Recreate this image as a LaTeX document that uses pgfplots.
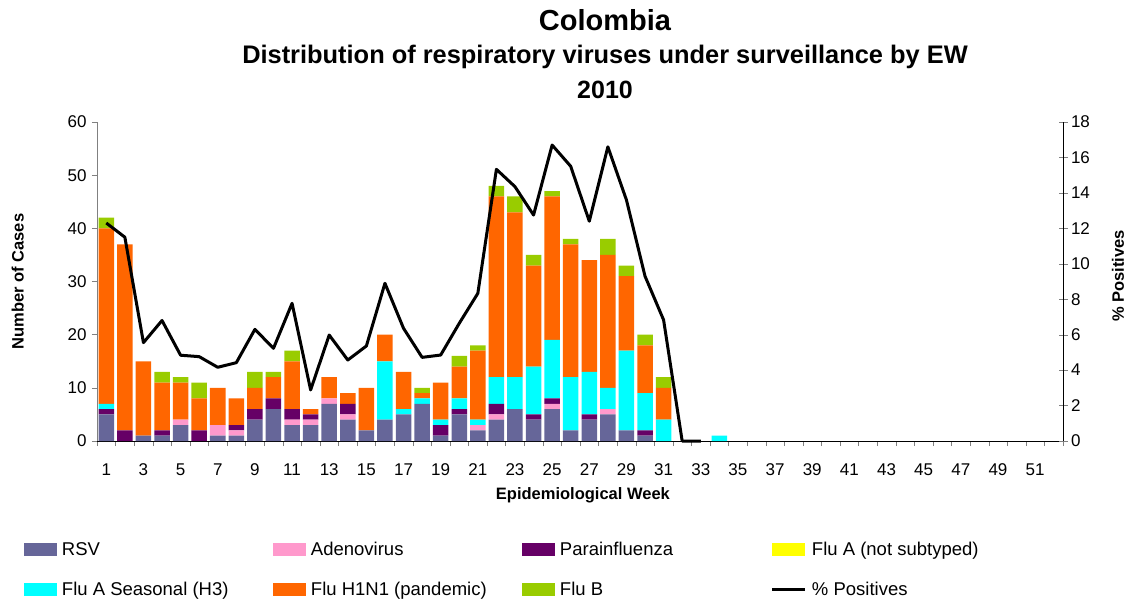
\documentclass[border=0pt]{standalone}
\usepackage{fontspec}
\setmainfont{Liberation Sans}
\usepackage{pgfplots}
\pgfplotsset{compat=1.18}
\usepackage{pgfplotstable}

\definecolor{rsv}{HTML}{666699}
\definecolor{adeno}{HTML}{FF99CC}
\definecolor{para}{HTML}{660066}
\definecolor{flua}{HTML}{FFFF00}
\definecolor{hthree}{HTML}{00FFFF}
\definecolor{hone}{HTML}{FF6600}
\definecolor{flub}{HTML}{99CC00}
\definecolor{axgray}{HTML}{808080}

% cases by epidemiological week
\pgfplotstableread{
week rsv adeno para flua h3 h1n1 flub
1  5 0 1 0 1 33 2
2  0 0 2 0 0 35 0
3  1 0 0 0 0 14 0
4  1 0 1 0 0 9  2
5  3 1 0 0 0 7  1
6  0 0 2 0 0 6  3
7  1 2 0 0 0 7  0
8  1 1 1 0 0 5  0
9  4 0 2 0 0 4  3
10 6 0 2 0 0 4  1
11 3 1 2 0 0 9  2
12 3 1 1 0 0 1  0
13 7 1 0 0 0 4  0
14 4 1 2 0 0 2  0
15 2 0 0 0 0 8  0
16 4 0 0 0 11 5 0
17 5 0 0 0 1 7  0
18 7 0 0 0 1 1  1
19 1 0 2 0 1 7  0
20 5 0 1 0 2 6  2
21 2 1 0 0 1 13 1
22 4 1 2 0 5 34 2
23 6 0 0 0 6 31 3
24 4 0 1 0 9 19 2
25 6 1 1 0 11 27 1
26 2 0 0 0 10 25 1
27 4 0 1 0 8 21 0
28 5 1 0 0 4 25 3
29 2 0 0 0 15 14 2
30 1 0 1 0 7 9  2
31 0 0 0 0 4 6  2
32 0 0 0 0 0 0  0
33 0 0 0 0 0 0  0
34 0 0 0 0 1 0  0
35 0 0 0 0 0 0  0
36 0 0 0 0 0 0  0
37 0 0 0 0 0 0  0
38 0 0 0 0 0 0  0
39 0 0 0 0 0 0  0
40 0 0 0 0 0 0  0
41 0 0 0 0 0 0  0
42 0 0 0 0 0 0  0
43 0 0 0 0 0 0  0
44 0 0 0 0 0 0  0
45 0 0 0 0 0 0  0
46 0 0 0 0 0 0  0
47 0 0 0 0 0 0  0
48 0 0 0 0 0 0  0
49 0 0 0 0 0 0  0
50 0 0 0 0 0 0  0
51 0 0 0 0 0 0  0
52 0 0 0 0 0 0  0
}\viruses

% percent positives
\pgfplotstableread{
week pos
1  12.3
2  11.5
3  5.55
4  6.8
5  4.84
6  4.76
7  4.16
8  4.42
9  6.3
10 5.23
11 7.77
12 2.88
13 5.98
14 4.57
15 5.36
16 8.9
17 6.36
18 4.72
19 4.85
20 6.64
21 8.33
22 15.33
23 14.35
24 12.75
25 16.7
26 15.5
27 12.4
28 16.6
29 13.6
30 9.3
31 6.83
32 0
33 0
}\positives

\pgfplotsset{
  swatch/.style={legend image code/.code={\fill[##1,draw=none] (0pt,0pt) rectangle (33pt,12.5pt);}},
  lineswatch/.style={legend image code/.code={\draw[##1,line width=3pt] (0pt,6pt) -- (33pt,6pt);}},
  tickfont/.style={font=\fontsize{17}{20}\selectfont},
}

\begin{document}
\begin{tikzpicture}
\path[use as bounding box] (-97pt,-159pt) rectangle (1034pt,441pt);

\node[font=\bfseries\fontsize{29}{33}\selectfont] at (508pt,421pt) {Colombia};
\node[font=\bfseries\fontsize{25.4}{29}\selectfont] at (508pt,384pt) {Distribution of respiratory viruses under surveillance by EW};
\node[font=\bfseries\fontsize{25}{29}\selectfont] at (508pt,351pt) {2010};

\begin{axis}[
  at={(0pt,0pt)}, anchor=south west,
  scale only axis, width=966pt, height=319pt,
  ybar stacked, bar width=15.5pt,
  xmin=0.5, xmax=52.5, ymin=0, ymax=60,
  axis x line*=bottom, axis y line*=left,
  y axis line style={axgray},
  ytick={0,10,...,60},
  xtick={0.5,1.5,...,52.5}, xticklabels={},
  extra x ticks={1,3,...,51},
  extra x tick style={major tick length=0pt, tick label style={yshift=-19pt}},
  tick align=outside, major tick length=5pt,
  tick style={axgray, thin},
  tick label style={tickfont},
  yticklabel style={xshift=-2pt},
  /pgf/number format/assume math mode=true,
  ylabel={Number of Cases},
  ylabel style={font=\bfseries\fontsize{16.5}{20}\selectfont, at={(axis description cs:-0.082,0.5)}, anchor=center},
  xlabel={Epidemiological Week},
  xlabel style={font=\bfseries\fontsize{16.5}{20}\selectfont, at={(axis description cs:0.503,-0.169)}, anchor=center},
  legend columns=4,
  legend cell align=left,
  legend style={draw=none, inner sep=0pt, outer sep=0pt,
    at={(axis description cs:-0.0756,-0.3197)}, anchor=north west,
    row sep=23pt,
    nodes={inner sep=0pt, anchor=base west, text height=13pt, text depth=4pt},
    font=\fontsize{18.5}{21}\selectfont},
]
\addplot[fill=rsv, draw=none, swatch] table[x=week, y=rsv] {\viruses};
\addlegendentry{\makebox[216pt][l]{\hspace{5pt}RSV}}
\addplot[fill=adeno, draw=none, swatch] table[x=week, y=adeno] {\viruses};
\addlegendentry{\makebox[216pt][l]{\hspace{5pt}Adenovirus}}
\addplot[fill=para, draw=none, swatch] table[x=week, y=para] {\viruses};
\addlegendentry{\makebox[216pt][l]{\hspace{5pt}Parainfluenza}}
\addplot[fill=flua, draw=none, swatch] table[x=week, y=flua] {\viruses};
\addlegendentry{\makebox[216pt][l]{\hspace{5pt}Flu A (not subtyped)}}
\addplot[fill=hthree, draw=none, swatch] table[x=week, y=h3] {\viruses};
\addlegendentry{\makebox[216pt][l]{\hspace{5pt}Flu A Seasonal (H3)}}
\addplot[fill=hone, draw=none, swatch] table[x=week, y=h1n1] {\viruses};
\addlegendentry{\makebox[216pt][l]{\hspace{5pt}Flu H1N1 (pandemic)}}
\addplot[fill=flub, draw=none, swatch] table[x=week, y=flub] {\viruses};
\addlegendentry{\makebox[216pt][l]{\hspace{5pt}Flu B}}
\addlegendimage{black, lineswatch}
\addlegendentry{\makebox[216pt][l]{\hspace{5pt}\% Positives}}
\end{axis}

\begin{axis}[
  at={(0pt,0pt)}, anchor=south west,
  scale only axis, width=966pt, height=319pt,
  xmin=0.5, xmax=52.5, ymin=0, ymax=18,
  axis x line=none, axis y line*=right,
  ytick={0,2,...,18},
  tick align=center, major tick length=9pt,
  tick label style={tickfont},
  /pgf/number format/assume math mode=true,
  ylabel={\% Positives},
  ylabel style={font=\bfseries\fontsize{16.5}{20}\selectfont, at={(axis description cs:1.057,0.517)}, anchor=center, rotate=0},
  clip=false,
]
\addplot[black, line width=3pt, line join=round] table[x=week, y=pos] {\positives};
\end{axis}
\end{tikzpicture}
\end{document}
